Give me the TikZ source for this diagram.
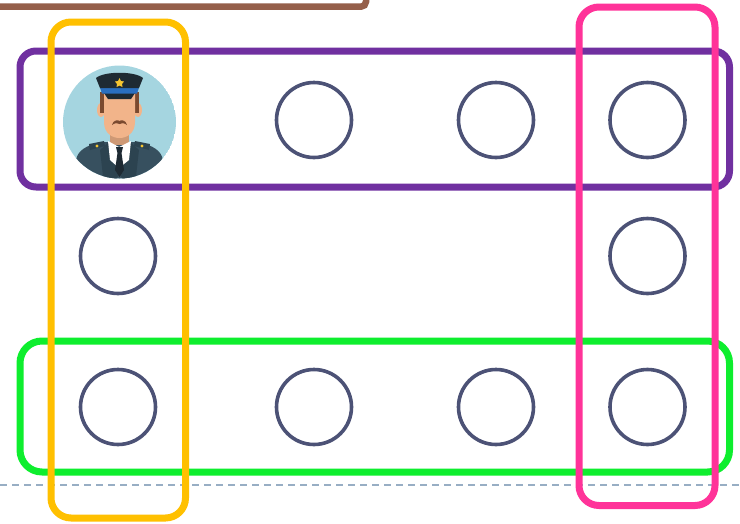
\documentclass[tikz,border=0pt]{standalone}
\begin{document}
\definecolor{framebrown}{HTML}{955F4A}
\definecolor{framepurple}{HTML}{7030A0}
\definecolor{frameyellow}{HTML}{FFC000}
\definecolor{framepink}{HTML}{FF3399}
\definecolor{framegreen}{HTML}{0EEE2E}
\definecolor{seatline}{HTML}{4C5276}
\definecolor{guideline}{HTML}{98AEC4}
\definecolor{avatarbg}{HTML}{A5D5E0}
\definecolor{skin}{HTML}{F2B48A}
\definecolor{hair}{HTML}{7B4A2F}
\definecolor{capdark}{HTML}{1E2A33}
\definecolor{capband}{HTML}{2A6FC0}
\definecolor{badge}{HTML}{F5C531}
\definecolor{coat}{HTML}{37505F}
\definecolor{coatdark}{HTML}{2C4350}
\begin{tikzpicture}[x=1pt,y=-1pt,
  frame/.style={line width=7pt,rounded corners=#1},
  frame/.default=20pt,
  seat/.style={circle,draw=seatline,line width=3.6pt,minimum size=75pt,inner sep=0pt}]
\useasboundingbox (0,0) rectangle (740,523);
\fill[white] (0,0) rectangle (740,523);

% dashed guide line
\draw[guideline,line width=2pt,dash pattern=on 7pt off 5pt] (0,484.5) -- (740,484.5);

% top-left brown frame (mostly outside)
\draw[framebrown,line width=6.5pt,rounded corners=5pt] (-20,6.7) -- (366,6.7) -- (366,-20);

% row frames
\draw[framepurple,frame=16pt] (20,51) rectangle (729.5,187);
\draw[framegreen,frame=22pt] (20,341) rectangle (729.5,472);

% seats
\node[seat] (s12) at (314,120) {};
\node[seat] (s13) at (496,120) {};
\node[seat] (s14) at (647.5,120) {};
\node[seat] (s21) at (118,256) {};
\node[seat] (s24) at (647.5,256) {};
\node[seat] (s31) at (118,407) {};
\node[seat] (s32) at (314,407) {};
\node[seat] (s33) at (496,407) {};
\node[seat] (s34) at (647.5,407) {};

% police officer avatar
\coordinate (av) at (119.5,122);
\begin{scope}
  \clip (av) circle (56.5pt);
  \fill[avatarbg] (av) circle (56.5pt);
  % body
  \fill[coat] (72,185) -- (76,160) .. controls (78,150) and (86,146) .. (100,142)
     -- (139,142) .. controls (153,146) and (161,150) .. (163,160) -- (167,185) -- cycle;
  \fill[coatdark] (109,142) -- (119,175) -- (112,185) -- (104,185) -- (100,150) -- cycle;
  \fill[coatdark] (130,142) -- (120,175) -- (127,185) -- (135,185) -- (139,150) -- cycle;
  % neck and collar
  \fill[skin!85!black] (110,128) rectangle (129,145);
  \fill[white] (108,141) -- (119,147) -- (131,141) -- (129,160) -- (119,168) -- (110,160) -- cycle;
  % tie
  \fill[capdark] (116,147) -- (123,147) -- (121.5,153) -- (124,170) -- (119.5,177) -- (115,170) -- (117.5,153) -- cycle;
  % epaulets
  \fill[coatdark] (89,144) -- (104,141) -- (105,146) -- (90,150) -- cycle;
  \fill[coatdark] (150,144) -- (135,141) -- (134,146) -- (149,150) -- cycle;
  \fill[badge] (97,146) circle (1.6pt);
  \fill[badge] (142,146) circle (1.6pt);
  % ears
  \fill[skin] (101,110) ellipse (4pt and 7pt);
  \fill[skin] (138,110) ellipse (4pt and 7pt);
  % hair
  \fill[hair] (100,92) rectangle (139,113);
  % face
  \fill[skin] (104,94) -- (135,94) -- (135,122) .. controls (135,133) and (127,138) .. (119.5,138)
     .. controls (112,138) and (104,133) .. (104,122) -- cycle;
  % mustache
  \fill[hair] (112,125) .. controls (113,120) and (118,119.5) .. (119.5,121)
     .. controls (121,119.5) and (126,120) .. (127,125)
     .. controls (124,122.5) and (121,123) .. (119.5,124)
     .. controls (118,123) and (115,122.5) .. cycle;
  % cap
  \fill[capdark] (104,93) -- (135,93) -- (131,99) -- (108,99) -- cycle;
  \fill[capband] (100,87.5) -- (139,87.5) -- (137,93.5) -- (102,93.5) -- cycle;
  \fill[capdark] (96,78) .. controls (104,71) and (135,71) .. (143,78)
     -- (139,88) -- (100,88) -- cycle;
  \fill[badge] (119.5,78) -- (121,81) -- (124,81.5) -- (122,84) -- (122.5,87) -- (119.5,85.5)
     -- (116.5,87) -- (117,84) -- (115,81.5) -- (118,81) -- cycle;
\end{scope}

% column frames
\draw[frameyellow,frame=20pt] (51,22) rectangle (185.5,518);
\draw[framepink,frame=20pt] (579,7) rectangle (715,505.5);
\end{tikzpicture}
\end{document}
